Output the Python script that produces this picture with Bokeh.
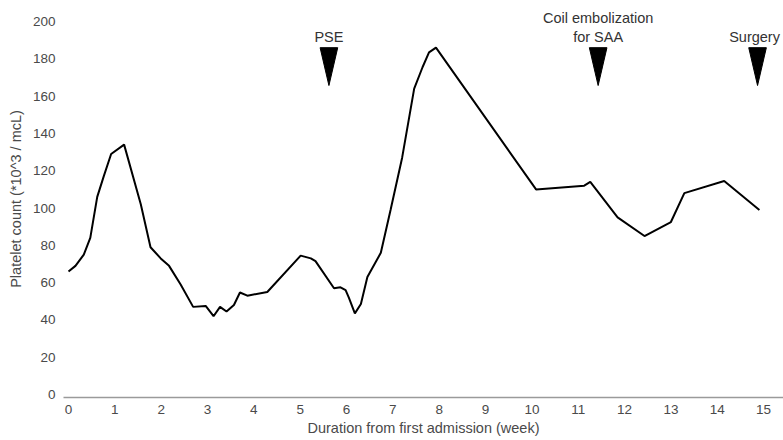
from bokeh.plotting import figure
from bokeh.models import Range1d, FixedTicker, ColumnDataSource
from bokeh.embed import file_html
from bokeh.resources import INLINE
from bokeh.core.properties import value

# ---- data ----
weeks = [0.0, 0.15, 0.33, 0.47, 0.62, 0.76, 0.92, 1.2, 1.56, 1.77, 1.99, 2.17, 2.42,
         2.69, 2.96, 3.13, 3.27, 3.41, 3.57, 3.7, 3.86, 4.29, 5.01, 5.23, 5.33, 5.73,
         5.87, 5.98, 6.05, 6.18, 6.31, 6.45, 6.74, 6.95, 7.2, 7.46, 7.64, 7.78, 7.93,
         10.09, 11.13, 11.26, 11.85, 12.43, 13.0, 13.29, 14.15, 14.91]
platelets = [66, 69, 75, 84, 106, 117, 129, 134, 102, 79, 73, 69, 59,
             47, 47.5, 42, 47, 44.5, 48, 54.7, 53, 55, 74.5, 73, 71.5, 57,
             57.5, 56, 52, 43.5, 48.5, 63, 76, 99, 127, 164, 175.5, 183.5, 186,
             110, 112, 114, 95, 85, 92.5, 108, 114.5, 99]

event_weeks = [5.62, 11.43, 14.87]
event_labels = ["PSE", "Coil embolization\nfor SAA", "Surgery"]
x_ticks = list(range(0, 16))
y_ticks = list(range(0, 201, 20))

FONT = "Liberation Sans"
TEXT_C = "#4a4a4a"

p = figure(width=783, height=440, output_backend="svg", toolbar_location=None,
           x_range=Range1d(-0.108, 15.43), y_range=Range1d(-1.6, 211.3),
           min_border_left=63, min_border_right=0, min_border_top=0,
           min_border_bottom=43)
p.outline_line_color = None
p.grid.grid_line_color = None
p.background_fill_color = "white"

# axes
p.xaxis.ticker = FixedTicker(ticks=x_ticks)
p.yaxis.ticker = FixedTicker(ticks=y_ticks)
for ax in (p.xaxis[0], p.yaxis[0]):
    ax.major_tick_line_color = None
    ax.minor_tick_line_color = None
    ax.major_tick_out = 0
    ax.major_tick_in = 0
    ax.minor_tick_out = 0
    ax.minor_tick_in = 0
    ax.major_label_text_font = FONT
    ax.major_label_text_font_size = "13.5px"
    ax.major_label_text_color = TEXT_C
    ax.axis_label_text_font = FONT
    ax.axis_label_text_font_size = "14.5px"
    ax.axis_label_text_font_style = "normal"
    ax.axis_label_text_color = TEXT_C
p.xaxis.axis_line_color = "#9a9a9a"
p.xaxis.axis_line_width = 1.5
p.yaxis.axis_line_color = None
p.xaxis.major_label_standoff = 7
p.xaxis.axis_label_standoff = 3
p.yaxis.major_label_standoff = 8
p.yaxis.axis_label_standoff = 6
p.xaxis.axis_label = "Duration from first admission (week)"
p.yaxis.axis_label = "Platelet count (*10^3 / mcL)"

# data line
p.line(weeks, platelets, line_color="black", line_width=2)

# event markers (narrow inverted triangles)
tri_top, tri_tip, half_w = 186.0, 165.7, 0.19
xs = [[w - half_w, w + half_w, w] for w in event_weeks]
ys = [[tri_top, tri_top, tri_tip] for _ in event_weeks]
p.patches(xs, ys, fill_color="black", line_color="black", line_width=1)

label_src = ColumnDataSource(dict(x=event_weeks, y=[187.6] * 3, text=event_labels,
                                  dx=[0, 0, -3]))
p.text(x="x", y="y", text="text", source=label_src, x_offset="dx",
       text_align="center", text_baseline="bottom", text_font=value(FONT),
       text_font_size="14.5px", text_color="#333333", text_line_height=1.17)

open("out.html", "w").write(file_html(p, INLINE))
